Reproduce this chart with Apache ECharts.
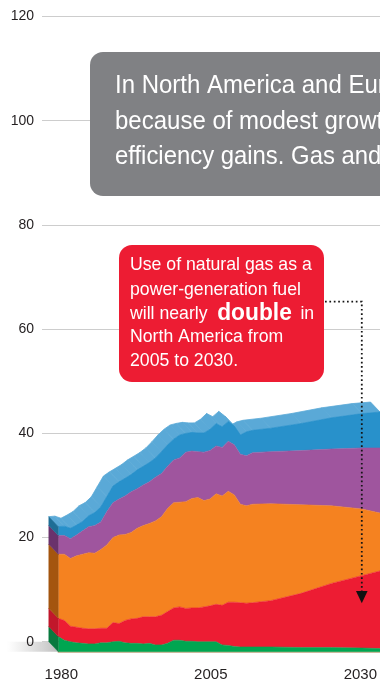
<!DOCTYPE html>
<html>
<head>
<meta charset="utf-8">
<script src="https://cdn.jsdelivr.net/npm/echarts@6/dist/echarts.min.js"></script>
<style>
  html, body { margin: 0; padding: 0; background: #fff; }
  #chart { width: 380px; height: 683px; }
</style>
</head>
<body>
<div id="chart"></div>
<script>
// Power-generation fuel demand, North America (stacked, bottom to top)
const years = [1980, 1981, 1982, 1983, 1984, 1985, 1986, 1987, 1988, 1989,
               1990, 1991, 1992, 1993, 1994, 1995, 1996, 1997, 1998, 1999,
               2000, 2001, 2002, 2003, 2004, 2005, 2006, 2007, 2008, 2009,
               2010, 2011, 2012, 2015, 2020, 2025, 2030, 2033];
const oil = [2.9, 2.2, 1.9, 1.7, 1.6, 1.5, 1.5, 1.7, 1.7, 1.9,
             2.0, 1.7, 1.6, 1.6, 1.5, 1.6, 1.3, 1.3, 1.6, 2.2,
             2.2, 2.0, 2.0, 1.9, 1.9, 1.9, 1.9, 1.3, 1.2, 1.0,
             0.9, 0.9, 0.9, 0.9, 0.8, 0.8, 0.7, 0.6];
const gas = [3.5, 3.8, 3.0, 3.0, 2.9, 2.9, 2.9, 2.8, 2.8, 3.7,
             3.4, 4.3, 4.7, 4.8, 5.2, 5.1, 5.4, 5.7, 6.1, 6.2,
             6.4, 6.3, 6.4, 6.5, 6.7, 6.9, 7.2, 7.6, 8.3, 8.5,
             8.5, 8.4, 8.5, 8.9, 10.4, 12.3, 13.9, 14.9];
const coal = [12.3, 12.7, 13.0, 13.7, 14.2, 14.6, 14.5, 15.1, 16.0, 16.3,
              17.0, 16.5, 16.6, 17.3, 17.5, 17.9, 18.4, 18.9, 19.8, 20.2,
              20.1, 20.5, 21.0, 21.2, 20.4, 20.5, 21.2, 21.0, 21.3, 20.6,
              18.9, 18.7, 18.9, 18.6, 17.0, 14.9, 12.8, 11.1];
const nuclear = [3.6, 3.6, 3.8, 4.0, 4.5, 5.0, 5.3, 5.3, 6.4, 6.7,
                 6.9, 7.4, 7.8, 7.6, 7.8, 8.0, 8.4, 8.3, 8.1, 8.2,
                 8.5, 9.5, 9.1, 8.8, 9.3, 9.3, 9.2, 9.3, 9.6, 9.6,
                 9.6, 9.6, 9.9, 10.0, 10.4, 10.9, 11.7, 12.5];
const renewables = [1.7, 1.8, 2.0, 1.9, 1.8, 2.1, 2.5, 2.9, 2.9, 3.2,
                    3.3, 3.4, 3.3, 3.6, 3.6, 3.7, 3.7, 4.2, 4.1, 4.0,
                    4.4, 3.6, 3.6, 3.6, 3.7, 4.1, 4.3, 4.0, 3.8, 3.6,
                    3.7, 4.6, 4.3, 4.5, 5.2, 6.0, 6.6, 6.9];

const yTicks = [0, 20, 40, 60, 80, 100, 120];
const xTickLabels = [1980, 2005, 2030];

const layers = [
  { name: 'Oil',        data: oil,        face: '#00a651', side: '#08793f' },
  { name: 'Gas',        data: gas,        face: '#ed1c33', side: '#c1172b' },
  { name: 'Coal',       data: coal,       face: '#f58220', side: '#a4550f' },
  { name: 'Nuclear',    data: nuclear,    face: '#9f559e', side: '#6a326c' },
  { name: 'Renewables', data: renewables, face: '#2891cb', side: '#1e6e96' }
];
const topColor = '#5aa9d7';
// extrusion depth of the pseudo-3D block (back plane is up and to the left)
const DX = -9.5, DY = -10;

// the front face uses a time axis so that the stack runs on the value dimension
const t = y => Date.UTC(y, 0, 1);
const totals = years.map((_, i) => layers.reduce((s, l) => s + l.data[i], 0));

const FONT = '"Liberation Sans", Arial, Helvetica, sans-serif';

const chart = echarts.init(document.getElementById('chart'), null, { renderer: 'canvas' });

// top surface: one parallelogram per segment of the outline
const topSegments = years.slice(0, -1).map((y, i) => [t(y), totals[i], t(years[i + 1]), totals[i + 1]]);

// left side face: one quad per layer at the first year
const sideFaces = [];
let acc = 0;
layers.forEach((l, k) => {
  sideFaces.push([t(years[0]), acc, acc + l.data[0], k]);
  acc += l.data[0];
});

const option = {
  animation: false,
  grid: [
    { left: 42, right: 0, top: 16.5, height: 625.2 },           // gridlines + value labels
    { left: 58.3, width: 323.3, top: 26.5, height: 625.2 },     // front face of the block
    { left: 61.3, width: 302, top: 26.5, height: 625.2 }        // year labels
  ],
  xAxis: [
    { gridIndex: 0, type: 'value', show: false, min: 0, max: 1 },
    { gridIndex: 1, type: 'time', min: t(years[0]), max: t(years[years.length - 1]),
      axisLine: { show: true, onZero: false, lineStyle: { color: '#b9a47e', width: 1.5 } },
      axisTick: { show: false }, axisLabel: { show: false }, splitLine: { show: false } },
    { gridIndex: 2, type: 'value', min: xTickLabels[0], max: xTickLabels[xTickLabels.length - 1],
      axisLine: { show: false }, axisTick: { show: false }, splitLine: { show: false },
      axisLabel: { customValues: xTickLabels, formatter: v => String(v),
                   fontSize: 15, fontFamily: FONT, color: '#231f20', margin: 16 } }
  ],
  yAxis: [
    { gridIndex: 0, type: 'value', min: yTicks[0], max: yTicks[yTicks.length - 1],
      interval: yTicks[1] - yTicks[0],
      axisLine: { show: false }, axisTick: { show: false },
      axisLabel: { fontSize: 14, fontFamily: FONT, color: '#231f20', margin: 8 },
      splitLine: { lineStyle: { color: '#cdcdcd', width: 1 } } },
    { gridIndex: 1, type: 'value', min: yTicks[0], max: yTicks[yTicks.length - 1], show: false },
    { gridIndex: 2, type: 'value', min: 0, max: 1, show: false }
  ],
  series: [
    {
      type: 'custom', name: 'Top surface', xAxisIndex: 1, yAxisIndex: 1,
      clip: false, silent: true, z: 1,
      dimensions: [{ name: 't0', type: 'time' }, 'v0', { name: 't1', type: 'time' }, 'v1'],
      encode: { x: [0, 2], y: [1, 3] },
      data: topSegments,
      renderItem: function (params, api) {
        const a = api.coord([api.value(0), api.value(1)]);
        const b = api.coord([api.value(2), api.value(3)]);
        return {
          type: 'polygon',
          shape: { points: [a, b, [b[0] + DX, b[1] + DY], [a[0] + DX, a[1] + DY]] },
          style: { fill: topColor, stroke: topColor, lineWidth: 0.8 }
        };
      }
    },
    ...layers.map(l => ({
      type: 'line', name: l.name, xAxisIndex: 1, yAxisIndex: 1, stack: 'total',
      data: years.map((y, i) => [t(y), l.data[i]]),
      symbol: 'none', silent: true, z: 2,
      lineStyle: { width: 0.6, color: l.face },
      itemStyle: { color: l.face },
      areaStyle: { color: l.face, opacity: 1 }
    })),
    {
      type: 'custom', name: 'Side face', xAxisIndex: 1, yAxisIndex: 1,
      clip: false, silent: true, z: 3,
      dimensions: [{ name: 't', type: 'time' }, 'lo', 'hi', 'k'],
      encode: { x: 0, y: [1, 2] },
      data: sideFaces,
      renderItem: function (params, api) {
        const lo = api.coord([api.value(0), api.value(1)]);
        const hi = api.coord([api.value(0), api.value(2)]);
        const c = layers[api.value(3)].side;
        return {
          type: 'polygon',
          shape: { points: [lo, hi, [hi[0] + DX, hi[1] + DY], [lo[0] + DX, lo[1] + DY]] },
          style: { fill: c, stroke: c, lineWidth: 0.5 }
        };
      }
    }
  ]
};

chart.setOption(option);

// floor shadow, call-out boxes and the connector
const base = chart.convertToPixel({ xAxisIndex: 1, yAxisIndex: 1 }, [t(years[0]), 0]);
const tip = chart.convertToPixel({ xAxisIndex: 1, yAxisIndex: 1 }, [t(2030), 9.3]);
const ax = tip[0];

function line(x, y, text, size, sx) {
  return {
    type: 'text', x: x, y: y, scaleX: sx, z: 101, silent: true,
    style: { text: text, fill: '#fff', fontSize: size, fontFamily: FONT, verticalAlign: 'middle', align: 'left' }
  };
}

chart.setOption({
  graphic: [
    {
      type: 'polygon', z: -1, silent: true,
      shape: { points: [[0, base[1] + DY], [base[0] + DX, base[1] + DY], [base[0], base[1]], [0, base[1]]] },
      style: {
        fill: new echarts.graphic.LinearGradient(0, 0, 1, 0, [
          { offset: 0, color: 'rgba(200,200,200,0)' },
          { offset: 0.12, color: 'rgba(200,200,200,0)' },
          { offset: 1, color: 'rgba(190,190,190,1)' }
        ])
      }
    },
    { type: 'rect', z: 100, silent: true, shape: { x: 90, y: 52, width: 420, height: 144, r: 13 }, style: { fill: '#808184' } },
    line(115, 86.3, 'In North America and Europe, electricity demand', 25, 0.96),
    line(115, 122, 'because of modest growth in population and', 25, 0.96),
    line(115, 157.4, 'efficiency gains. Gas and nuclear lead the way.', 25, 0.955),
    { type: 'rect', z: 100, silent: true, shape: { x: 119, y: 245, width: 205, height: 137, r: 13 }, style: { fill: '#ed1c33' } },
    line(130, 264.4, 'Use of natural gas as a', 19, 0.93),
    line(130, 289.4, 'power-generation fuel', 19, 0.93),
    {
      type: 'text', x: 130, y: 313.4, scaleX: 0.93, z: 101, silent: true,
      style: {
        text: 'will nearly {b|double} in', fill: '#fff', fontSize: 19, fontFamily: FONT,
        verticalAlign: 'middle', align: 'left',
        rich: { b: { fontSize: 24.5, fontWeight: 'bold', fontFamily: FONT, fill: '#fff',
                     verticalAlign: 'bottom', padding: [0, 4, 0, 5] } }
      }
    },
    line(130, 336.4, 'North America from', 19, 0.93),
    line(130, 360.9, '2005 to 2030.', 19, 0.93),
    {
      type: 'polyline', z: 100, silent: true,
      shape: { points: [[325, 301.7], [ax, 301.7], [ax, tip[1] - 12]] },
      style: { stroke: '#151515', lineWidth: 1.8, lineDash: [1.7, 2.7], fill: null }
    },
    {
      type: 'polygon', z: 100, silent: true,
      shape: { points: [[ax - 5.8, tip[1] - 12.3], [ax + 5.8, tip[1] - 12.3], [ax, tip[1]]] },
      style: { fill: '#111' }
    }
  ]
});
</script>
</body>
</html>
